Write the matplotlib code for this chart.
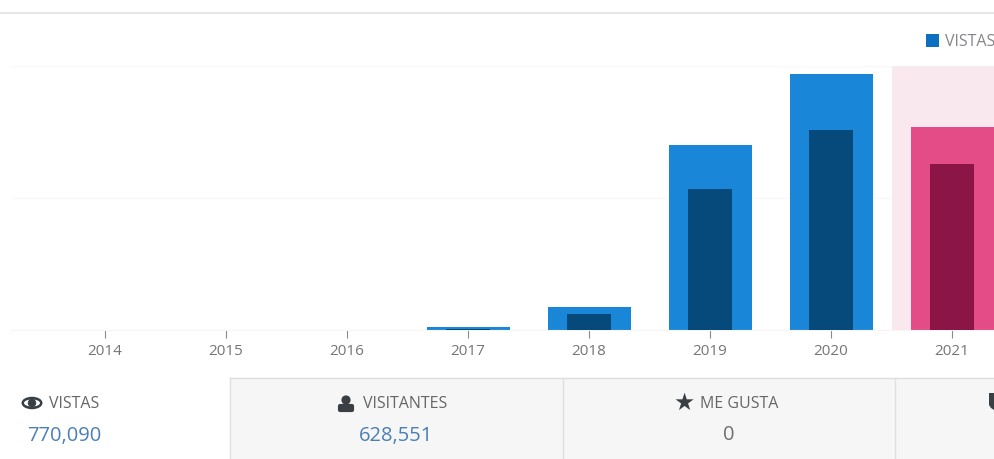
import matplotlib
matplotlib.use("Agg")
import matplotlib.pyplot as plt
from matplotlib.patches import Rectangle, Ellipse, Circle, Polygon, FancyBboxPatch

plt.rcParams['font.family'] = ['Open Sans', 'DejaVu Sans']

years = ['2014', '2015', '2016', '2017', '2018', '2019', '2020', '2021']
views = [0, 0, 0, 3400, 26500, 210000, 291000, 231000]
visitors = [0, 0, 0, 1500, 18500, 160500, 227000, 188500]
highlight = '2021'
stat_labels = ['VISTAS', 'VISITANTES', 'ME GUSTA']
stat_values = ['770,090', '628,551', '0']

W, H = 994, 459
fig = plt.figure(figsize=(W / 100, H / 100), dpi=100, facecolor='white')

# overlay in pixel coordinates for page furniture
bg = fig.add_axes([0, 0, 1, 1], zorder=0)
bg.set_xlim(0, W)
bg.set_ylim(H, 0)
bg.axis('off')
bg.plot([0, W], [13, 13], color='#e6e6e6', lw=1.5)
bg.add_patch(Rectangle((230, 378), W - 230, H - 378, fc='#f6f6f6', ec='none'))
bg.plot([230, W], [378, 378], color='#dddddd', lw=1)
for x in (230, 562.5, 895):
    bg.plot([x, x], [378, H], color='#e0e0e0', lw=1)

# legend fragment, cut by the image edge
bg.add_patch(Rectangle((926, 34), 13, 13, fc='#0c6fc0', ec='none'))
bg.text(945, 42.5, 'VISTAS', fontsize=11.5, color='#85858c', va='center', ha='left',
        clip_on=True)

# statistics
label_col = '#666666'
bg.text(49, 404.5, stat_labels[0], fontsize=11.5, color=label_col, va='center', ha='left')
bg.text(64, 435.5, stat_values[0], fontsize=14.5, color='#4a80b4', va='center', ha='center')
bg.text(363, 404.5, stat_labels[1], fontsize=11.5, color=label_col, va='center', ha='left')
bg.text(396.5, 435.5, stat_values[1], fontsize=14.5, color='#4a80b4', va='center', ha='center')
bg.text(700, 404.5, stat_labels[2], fontsize=11.5, color=label_col, va='center', ha='left')
bg.text(729, 435.5, stat_values[2], fontsize=14.5, color='#707070', va='center', ha='center')

icon = '#3a3f44'
# eye
bg.add_patch(Ellipse((32, 403), 21, 12.5, fc=icon, ec='none'))
bg.add_patch(Ellipse((32, 403), 16, 7, fc='white', ec='none'))
bg.add_patch(Circle((32, 403), 4.2, fc=icon, ec='none'))
# person
bg.add_patch(Circle((346, 400), 4.6, fc=icon, ec='none'))
bg.add_patch(FancyBboxPatch((340, 406), 12, 4, boxstyle='round,pad=0,rounding_size=0', fc=icon, ec=icon, lw=3, joinstyle='round'))
# star
bg.text(684, 403, '\u2605', fontsize=17, color=icon, va='center', ha='center',
        family='DejaVu Sans')
# thumb fragment
bg.add_patch(Polygon([(989, 393), (994, 393), (994, 410), (991, 408), (989, 405)], fc=icon, ec='none'))

# chart
ax = fig.add_axes([11 / W, 1 - 330 / H, (W - 11) / W, (330 - 66) / H], zorder=1)
ax.patch.set_alpha(0)
x = list(range(len(years)))
ax.set_xlim((11 - 105) / 121, (994 - 105) / 121)
ax.set_ylim(0, 300000)
hi = years.index(highlight)
ax.axvspan(hi - 0.5, hi + 0.5, color='#f9e8ee', lw=0, zorder=1)
ax.yaxis.set_major_locator(plt.MultipleLocator(150000))
ax.grid(axis='y', color='#faf9f7', lw=1, zorder=0.5)
ax.set_axisbelow(True)
ax.tick_params(axis='y', left=False, labelleft=False)

bcol = ['#e34c87' if y == highlight else '#1a86d8' for y in years]
vcol = ['#8b1546' if y == highlight else '#064a7c' for y in years]
ax.bar(x, views, width=83 / 121, color=bcol, zorder=2)
ax.bar(x, visitors, width=44 / 121, color=vcol, zorder=3)

ax.set_xticks(x, years)
ax.tick_params(axis='x', length=6, width=0.8, color='#8a8a8a', labelcolor='#757575',
               labelsize=11, pad=4)
for s in ('top', 'left', 'right'):
    ax.spines[s].set_visible(False)
ax.spines['bottom'].set_color('#f8f6f2')

fig.savefig('out.png', dpi=100)
